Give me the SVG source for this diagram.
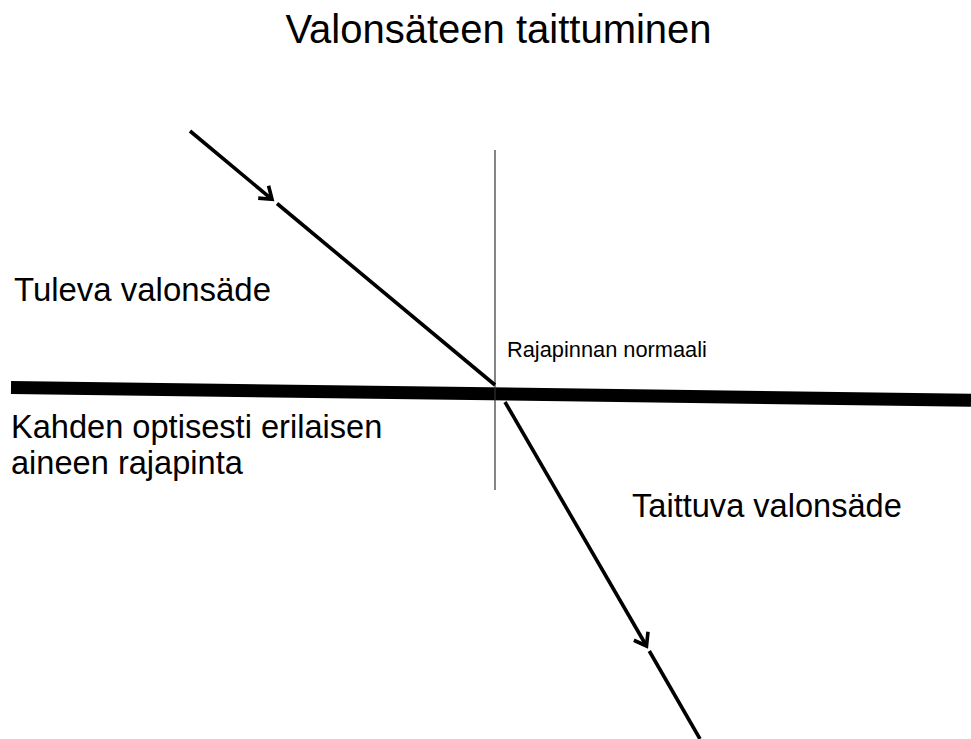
<svg xmlns="http://www.w3.org/2000/svg" width="971" height="739" viewBox="0 0 971 739">
<style>
text{font-family:"Liberation Sans",Arial,sans-serif;fill:#000}
.lbl{font-size:32.6px}
.ray{stroke:#000;stroke-width:3.6;fill:none;stroke-linecap:butt}
.head{stroke:#000;stroke-width:3.6;fill:none;stroke-linecap:square;stroke-linejoin:miter}
</style>
<rect width="971" height="739" fill="#fff"/>
<text id="title" x="498.5" y="43" font-size="40" text-anchor="middle">Valonsäteen taittuminen</text>
<g id="interface">
<line x1="11" y1="387.5" x2="971" y2="400.2" stroke="#000" stroke-width="13"/>
</g>
<g id="normal">
<line x1="495" y1="150" x2="495" y2="490" stroke="#333" stroke-width="1.2"/>
</g>
<g id="connectors">
<g id="incident">
<line class="ray" x1="190" y1="131" x2="272" y2="199.3"/>
<polyline class="head" points="269,187.5 272,199.3 260,198.3"/>
<line class="ray" x1="277" y1="203.5" x2="495" y2="385"/>
</g>
<g id="refracted">
<line class="ray" x1="505" y1="402" x2="646.5" y2="646"/>
<polyline class="head" points="647.8,633.5 646.5,646 635.5,641"/>
<line class="ray" x1="649.3" y1="651" x2="700" y2="739"/>
</g>
</g>
<g id="labels">
<text class="lbl" x="14" y="301" textLength="257" lengthAdjust="spacingAndGlyphs">Tuleva valonsäde</text>
<text class="lbl" x="11" y="438">Kahden optisesti erilaisen</text>
<text class="lbl" x="11" y="474">aineen rajapinta</text>
<text x="507" y="357" font-size="21.8">Rajapinnan normaali</text>
<text class="lbl" x="632" y="517">Taittuva valonsäde</text>
</g>
</svg>
